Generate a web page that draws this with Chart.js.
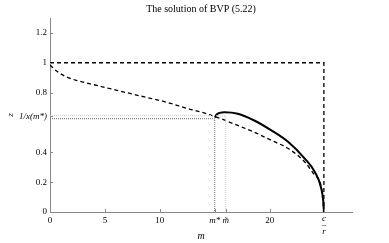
<!DOCTYPE html>
<html><head><meta charset="utf-8">
<script src="https://cdn.jsdelivr.net/npm/chart.js@4.4.1/dist/chart.umd.min.js"></script>
<style>html,body{margin:0;padding:0;background:#fff}#wrap{width:389px;height:243px}</style>
</head><body><div id="wrap"><canvas id="c" width="389" height="243"></canvas></div>
<script>
// ---- data ----
const cOverR = 24.94;
const mStar = 15.0;
const mTilde = 16.0;
const zStar = 0.625;      // 1/x(m*)
const zTilde = 0.645;

const dashedX = [0, 0.5, 1.36, 2.5, 4.1, 6, 8.6, 10.4, 12.7, 14.2, 15.6, 17.1, 18.6, 20.15, 21.7, 23.2, 24.1, 24.7, 24.94];
const dashedY = [0.985, 0.95, 0.91, 0.88, 0.851, 0.817, 0.771, 0.74, 0.69, 0.66, 0.624, 0.58, 0.535, 0.48, 0.425, 0.335, 0.247, 0.17, 0];

const solidX = [15.0, 15.2, 15.45, 15.9, 17.1, 18.6, 20.15, 21.7, 23.2, 24.1, 24.7, 24.9, 24.94];
const solidY = [0.633, 0.655, 0.664, 0.668, 0.658, 0.613, 0.547, 0.469, 0.358, 0.27, 0.158, 0.06, 0];

const boxX = [0, cOverR, cOverR];
const boxY = [1, 1, 0];

const xTickValues = [0, 5, 10, mStar, mTilde, 20, cOverR];
const xTickLabels = ['0', '5', '10', 'm*', 'm\u0303', '20', ['c', '\u2013', 'r']];
const yTickValues = [0, 0.2, 0.4, 0.64, 0.8, 1, 1.2];
const yTickLabels = ['0', '0.2', '0.4', '1/x(m*)', '0.8', '1', '1.2'];

const pts = (xs, ys) => xs.map((x, i) => ({x, y: ys[i]}));

const SERIF = '"Liberation Serif", "DejaVu Serif", serif';
const italicX = new Set([3, 4, 6]);

const inwardTicks = {
  id: 'inwardTicks',
  afterDraw(chart) {
    const {ctx, chartArea, scales} = chart;
    ctx.save();
    ctx.strokeStyle = '#888';
    ctx.lineWidth = 1;
    ctx.beginPath();
    xTickValues.forEach(v => {
      const px = Math.round(scales.x.getPixelForValue(v)) + 0.5;
      ctx.moveTo(px, chartArea.bottom); ctx.lineTo(px, chartArea.bottom - 3);
    });
    yTickValues.forEach(v => {
      const py = Math.round(scales.y.getPixelForValue(v)) + 0.5;
      ctx.moveTo(chartArea.left, py); ctx.lineTo(chartArea.left + 3, py);
    });
    ctx.stroke();
    ctx.restore();
  }
};

new Chart(document.getElementById('c'), {
  type: 'scatter',
  data: {
    datasets: [
      {data: pts([0, mTilde, mTilde], [zTilde, zTilde, 0]), borderColor: '#c8c8c8', borderWidth: 1, borderDash: [1, 1]},
      {data: pts([0, mStar, mStar], [zStar, zStar, 0]), borderColor: '#666', borderWidth: 1, borderDash: [1, 1]},
      {data: pts(boxX, boxY), borderColor: '#000', borderWidth: 1.3, borderDash: [4, 3]},
      {data: pts(dashedX, dashedY), borderColor: '#000', borderWidth: 1.3, borderDash: [4, 3], cubicInterpolationMode: 'monotone'},
      {data: pts(solidX, solidY), borderColor: '#000', borderWidth: 2, cubicInterpolationMode: 'monotone'}
    ]
  },
  options: {
    responsive: false,
    animation: false,
    showLine: true,
    elements: {point: {radius: 0}, line: {fill: false}},
    layout: {padding: {left: 5, right: 37, top: 0, bottom: 0}},
    plugins: {
      legend: {display: false},
      tooltip: {enabled: false},
      title: {
        display: true, fullSize: false,
        text: 'The solution of BVP (5.22)',
        color: '#000',
        font: {family: SERIF, size: 10, weight: 'normal'},
        padding: {top: 3, bottom: 3}
      }
    },
    scales: {
      x: {
        type: 'linear', min: 0, max: 27.5,
        afterBuildTicks: s => { s.ticks = xTickValues.map(v => ({value: v})); },
        afterFit: s => { s.height = 31; },
        ticks: {
          autoSkip: false, maxRotation: 0, padding: 3, color: '#000',
          font: ctx => ({family: SERIF, size: 9, style: italicX.has(ctx.index) ? 'italic' : 'normal', lineHeight: ctx.index === 6 ? 0.75 : 1.2}),
          callback: (v, i) => xTickLabels[i]
        },
        grid: {display: false, drawTicks: false},
        border: {display: true, color: '#888', width: 1},
        title: {display: true, text: 'm', color: '#000', font: {family: SERIF, size: 10, style: 'italic'}, padding: {top: 0, bottom: 1}}
      },
      y: {
        type: 'linear', min: 0, max: 1.3,
        afterBuildTicks: s => { s.ticks = yTickValues.map(v => ({value: v})); },
        afterFit: s => { s.width = 45; },
        ticks: {
          autoSkip: false, padding: 3, color: '#000',
          font: ctx => ({family: SERIF, size: 9, style: ctx.index === 3 ? 'italic' : 'normal'}),
          callback: (v, i) => yTickLabels[i]
        },
        grid: {display: false, drawTicks: false},
        border: {display: true, color: '#888', width: 1},
        title: {display: true, text: 'z', color: '#000', font: {family: SERIF, size: 9, style: 'italic'}, padding: {top: 0, bottom: 0}}
      }
    }
  },
  plugins: [inwardTicks]
});
</script>
</body></html>
